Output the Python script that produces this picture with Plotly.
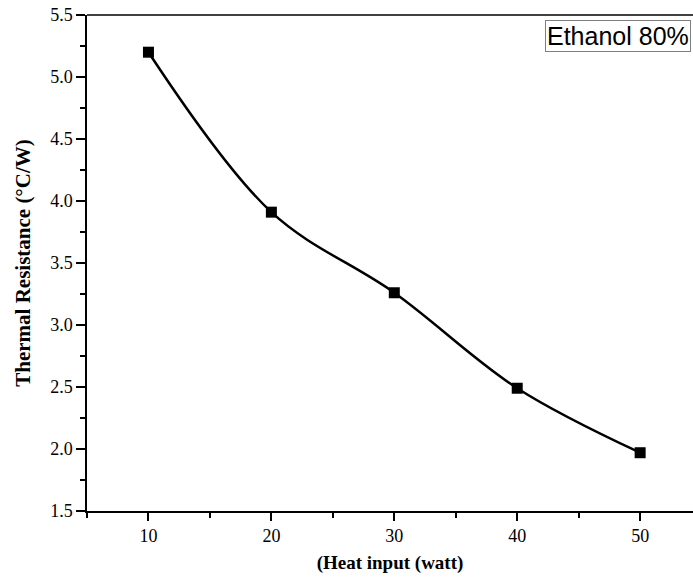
import plotly.graph_objects as go

heat_input = [10, 20, 30, 40, 50]
thermal_resistance = [5.20, 3.91, 3.26, 2.49, 1.97]
series_name = "Ethanol 80%"
x_tick_vals = [10, 20, 30, 40, 50]
y_tick_vals = [1.5, 2.0, 2.5, 3.0, 3.5, 4.0, 4.5, 5.0, 5.5]

fig = go.Figure()
fig.add_trace(go.Scatter(
    x=heat_input, y=thermal_resistance, mode="lines+markers",
    line=dict(color="black", width=2.5, shape="spline", smoothing=1),
    marker=dict(symbol="square", size=11, color="black"),
    name=series_name, showlegend=False,
))

serif = "Liberation Serif, Times New Roman, serif"
fig.update_layout(
    width=693, height=588,
    margin=dict(l=87, r=0, t=15, b=77),
    paper_bgcolor="white", plot_bgcolor="white",
    font=dict(family=serif, color="black"),
    xaxis=dict(
        range=[5, 54.3], tickvals=x_tick_vals, ticktext=[str(v) for v in x_tick_vals],
        ticks="outside", ticklen=8, tickwidth=1.5, tickcolor="black",
        showline=True, linecolor="black", linewidth=1.5, mirror=False,
        showgrid=False, zeroline=False, automargin=False,
        tickfont=dict(family=serif, size=18, color="black"),
        minor=dict(tickvals=[5, 15, 25, 35, 45], ticks="outside", ticklen=5, tickwidth=1.5, tickcolor="black"),
        title=dict(text="<b>(Heat input (watt)</b>", font=dict(family=serif, size=19, color="black"), standoff=10),
    ),
    yaxis=dict(
        range=[1.5, 5.5], tickvals=y_tick_vals, ticktext=[f"{v:.1f}" for v in y_tick_vals],
        ticks="outside", ticklen=9, tickwidth=1.5, tickcolor="black",
        showline=True, linecolor="black", linewidth=1.5,
        showgrid=False, zeroline=False, automargin=False,
        tickfont=dict(family=serif, size=18, color="black"),
        minor=dict(tickvals=[1.75, 2.25, 2.75, 3.25, 3.75, 4.25, 4.75, 5.25], ticks="outside", ticklen=5, tickwidth=1.5, tickcolor="black"),
        title=dict(text="<b>Thermal Resistance (°C/W)</b>", font=dict(family=serif, size=21, color="black"), standoff=14),
    ),
    shapes=[dict(type="line", xref="paper", yref="paper", x0=0, x1=1, y0=1, y1=1,
                 line=dict(color="black", width=1.5))],
    annotations=[dict(
        x=0.755, y=0.99, xref="paper", yref="paper", xanchor="left", yanchor="top",
        text=series_name, showarrow=False,
        font=dict(family="Liberation Sans, Arial, sans-serif", size=25, color="black"),
        bordercolor="#808080", borderwidth=1, borderpad=1, bgcolor="white",
    )],
)

fig.write_html("out.html", config={"displayModeBar": False},
               post_script="document.body.style.margin='0px';")
